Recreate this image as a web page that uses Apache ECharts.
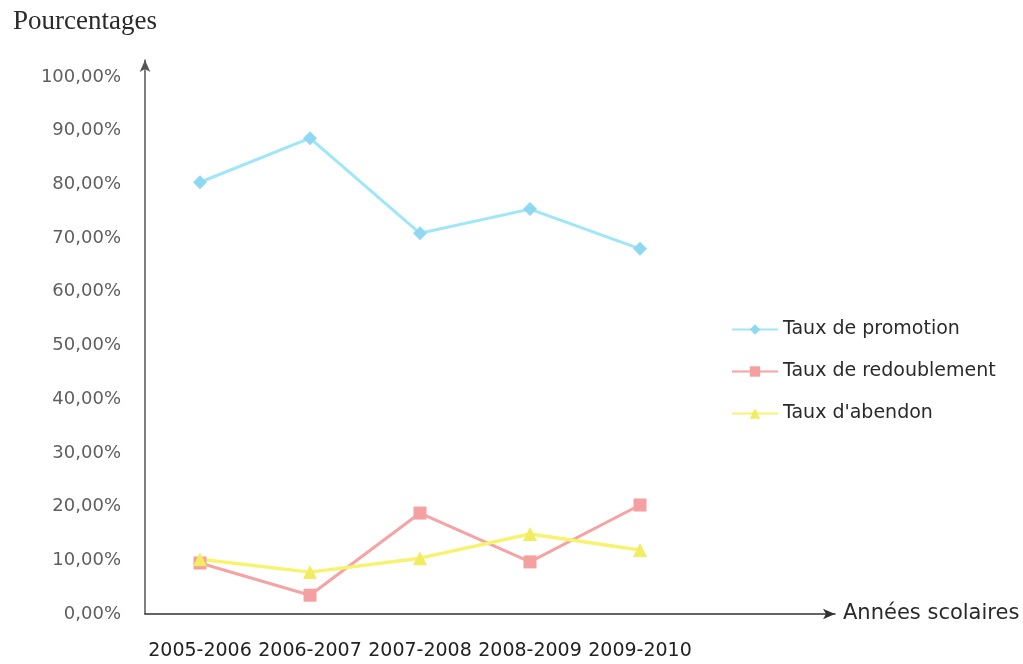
<!DOCTYPE html>
<html>
<head>
<meta charset="utf-8">
<script src="https://cdn.jsdelivr.net/npm/echarts@6/dist/echarts.min.js"></script>
<style>html,body{margin:0;padding:0;background:#fff;}#c{width:1023px;height:664px;}</style>
</head>
<body>
<div id="c"></div>
<script>
const categories = ['2005-2006', '2006-2007', '2007-2008', '2008-2009', '2009-2010'];
const promotion = [80.4, 88.6, 70.9, 75.4, 68.0];
const redoublement = [9.5, 3.5, 18.8, 9.7, 20.3];
const abandon = [10.2, 7.8, 10.4, 14.9, 11.9];
const seriesNames = ['Taux de promotion', 'Taux de redoublement', "Taux d'abendon"];
const yTicks = [0, 10, 20, 30, 40, 50, 60, 70, 80, 90, 100];

const chart = echarts.init(document.getElementById('c'));
const sans = 'DejaVu Sans';
chart.setOption({
  backgroundColor: '#fff',
  animation: false,
  title: {
    text: 'Pourcentages', left: 8, top: 3,
    textStyle: { fontFamily: 'Liberation Serif', fontSize: 27, fontWeight: 'normal', color: '#2a2a2a' }
  },
  legend: {
    orient: 'vertical', left: 726, top: 315, itemGap: 23,
    itemWidth: 46, itemHeight: 13,
    data: seriesNames,
    textStyle: { fontFamily: sans, fontSize: 19, color: '#2a2a2a' }
  },
  grid: [
    { left: 145, right: 328, top: 77, bottom: 50 },
    { left: 145, right: 188, top: 60, bottom: 50 }
  ],
  xAxis: [
    {
      type: 'category', gridIndex: 0, data: categories, boundaryGap: true,
      axisLine: { show: false }, axisTick: { show: false },
      axisLabel: { interval: 0, hideOverlap: false, margin: 28, fontFamily: sans, fontSize: 19, color: '#222' }
    },
    {
      type: 'value', gridIndex: 1, min: 0, max: 1,
      axisLine: { show: true, onZero: false, symbol: ['none', 'arrow'], symbolSize: [8, 12], lineStyle: { color: '#333', width: 1.5 } },
      axisTick: { show: false }, axisLabel: { show: false }, splitLine: { show: false },
      name: 'Années scolaires', nameLocation: 'end', nameGap: 8,
      nameTextStyle: { fontFamily: sans, fontSize: 21, color: '#2a2a2a', verticalAlign: 'middle' }
    }
  ],
  yAxis: [
    {
      type: 'value', gridIndex: 0, min: 0, max: 100, interval: 10,
      axisLine: { show: false }, axisTick: { show: false }, splitLine: { show: false },
      axisLabel: {
        margin: 24, fontFamily: sans, fontSize: 18, color: '#5e5e5e',
        formatter: v => yTicks.includes(v) ? v.toFixed(2).replace('.', ',') + '%' : ''
      }
    },
    {
      type: 'value', gridIndex: 1, min: 0, max: 1,
      axisLine: { show: true, onZero: false, symbol: ['none', 'arrow'], symbolSize: [8, 12], lineStyle: { color: '#555', width: 1.5 } },
      axisTick: { show: false }, axisLabel: { show: false }, splitLine: { show: false }
    }
  ],
  series: [
    {
      name: seriesNames[0], type: 'line', data: promotion,
      symbol: 'diamond', symbolSize: 14,
      lineStyle: { color: '#9fe6f7', width: 3 },
      itemStyle: { color: '#8fd8f2' }
    },
    {
      name: seriesNames[1], type: 'line', data: redoublement,
      symbol: 'rect', symbolSize: 13,
      lineStyle: { color: '#f5a3a3', width: 3 },
      itemStyle: { color: '#f4a0a0' }
    },
    {
      name: seriesNames[2], type: 'line', data: abandon,
      symbol: 'triangle', symbolSize: 14,
      lineStyle: { color: '#f8f36e', width: 3.5 },
      itemStyle: { color: '#f2ec62' }
    }
  ]
});
</script>
</body>
</html>
